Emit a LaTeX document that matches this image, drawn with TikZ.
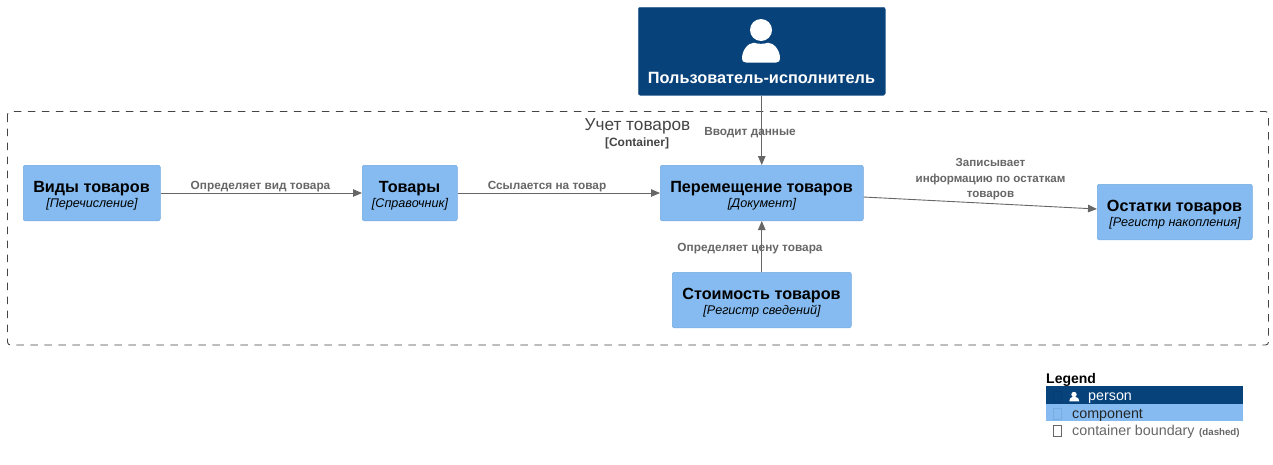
\documentclass[tikz,border=0pt]{standalone}
\usepackage{fontspec}
\setmainfont{Liberation Sans}
\usetikzlibrary{arrows.meta}
\definecolor{persondark}{HTML}{08427B}
\definecolor{compblue}{HTML}{85BBF0}
\definecolor{edgegrey}{HTML}{666666}
\definecolor{bordergrey}{HTML}{444444}
\tikzset{
  x=1pt,y=-1pt,
  comp/.style={draw=compblue!85!persondark,line width=.5pt,fill=compblue,rounded corners=2pt,anchor=north west,inner sep=0pt},
  ctitle/.style={font=\fontsize{16.2}{18}\selectfont\bfseries,text=black,inner sep=0pt},
  csub/.style={font=\fontsize{12.6}{14}\selectfont\itshape,text=black,inner sep=0pt},
  rel/.style={draw=edgegrey,line width=.9pt,-{Stealth[length=9pt,width=7.5pt,inset=0pt]}},
  rellabel/.style={font=\fontsize{11.8}{15.5}\selectfont\bfseries,text=edgegrey,inner sep=0pt,align=center},
  legtext/.style={font=\fontsize{14.3}{16}\selectfont,anchor=west,inner sep=0pt},
  tofu/.style={draw,line width=.6pt,fill=none},
}
\begin{document}
\begin{tikzpicture}
\useasboundingbox (0,0) rectangle (1273,464);
% boundary
\draw[bordergrey,line width=.9pt,dash pattern=on 7.5pt off 6.5pt,rounded corners=3pt] (7.5,111.5) rectangle (1268.5,345);
\node[font=\fontsize{17.2}{18}\selectfont,text=bordergrey,inner sep=0pt] (bt) at (637.5,126.2) {Учет товаров};
\node[font=\fontsize{12}{14}\selectfont\bfseries,text=bordergrey,inner sep=0pt] (bs) at (637,143) {[Container]};
% person
\node[comp,fill=persondark,draw=persondark!80!white,minimum width=247pt,minimum height=88pt] (user) at (638,7) {};
\fill[white] (761,30) circle (11);
\fill[white] (742,58.5) .. controls (742,50) and (748,43) .. (754,42.7) .. controls (758,44.2) and (764,44.2) .. (768,42.7) .. controls (774,43) and (780,50) .. (780,58.5) .. controls (780,61) and (779,62.5) .. (776,62.5) -- (746,62.5) .. controls (743,62.5) and (742,61) .. (742,58.5) -- cycle;
\node[font=\fontsize{16.3}{18}\selectfont\bfseries,text=white,inner sep=0pt] (ut) at (761.5,77.5) {Пользователь-исполнитель};
% components
\node[comp,minimum width=137pt,minimum height=55.5pt] (vid) at (23,165) {};
\node[ctitle] at (91.5,188.5) {Виды товаров};
\node[csub] at (92,204.5) {[Перечисление]};
\node[comp,minimum width=95pt,minimum height=55.5pt] (tov) at (362,165) {};
\node[ctitle] at (409.5,188.5) {Товары};
\node[csub] at (410,204.5) {[Справочник]};
\node[comp,minimum width=203pt,minimum height=55.5pt] (move) at (660,165) {};
\node[ctitle] at (761.5,188.5) {Перемещение товаров};
\node[csub] at (762,204.5) {[Документ]};
\node[comp,minimum width=155pt,minimum height=55.5pt] (ost) at (1097,184) {};
\node[ctitle] at (1174.5,207.5) {Остатки товаров};
\node[csub] at (1175,223.5) {[Регистр накопления]};
\node[comp,minimum width=179pt,minimum height=55.5pt] (cost) at (672,272) {};
\node[ctitle] at (761.5,295.5) {Стоимость товаров};
\node[csub] at (762,311.5) {[Регистр сведений]};
% connectors
\draw[rel] (user.south) -- (move.north);
\draw[rel] (vid.east) -- (tov.west);
\draw[rel] (tov.east) -- (move.west);
\path (move.east) ++(0,4) coordinate (mvout);
\path (ost.west) ++(0,-3) coordinate (ostin);
\draw[rel] (mvout) -- (ostin);
\draw[rel] (cost.north) -- (move.south);
% labels
\node[rellabel] (l1) at (750,133) {Вводит данные};
\node[rellabel] (l2) at (260.5,187) {Определяет вид товара};
\node[rellabel] (l3) at (547,187) {Ссылается на товар};
\node[font=\fontsize{11.6}{15.5}\selectfont\bfseries,text=edgegrey,inner sep=0pt,align=center] (l4) at (990.5,179.5) {Записывает\\информацию по остаткам\\товаров};
\node[rellabel] (l5) at (750,249) {Определяет цену товара};
% legend
\node[font=\fontsize{14}{16}\selectfont\bfseries,anchor=west,inner sep=0pt] (lg) at (1046,380) {Legend};
\fill[persondark] (1046,386) rectangle (1243,404);
\fill[compblue] (1046,404) rectangle (1243,421);
\draw[tofu,draw=persondark!92!black] (1053,391) rectangle (1061,402);
\fill[white] (1074,394.5) circle (2.7);
\fill[white] (1069.3,401.3) .. controls (1069.3,398.5) and (1071,397.2) .. (1072,397.2) -- (1076,397.2) .. controls (1077.5,397.2) and (1079.3,398.5) .. (1079.3,401.3) -- cycle;
\node[legtext,text=white] (lp) at (1088,398) {person};
\draw[tofu,draw=compblue!92!black] (1053,408) rectangle (1061,419);
\node[legtext,text=black!85] (lc) at (1072,415) {component};
\draw[tofu,draw=edgegrey] (1053,425.7) rectangle (1061,436.7);
\node[legtext,text=edgegrey] (lb) at (1072,432) {container boundary};
\node[font=\fontsize{9.7}{10}\selectfont\bfseries,text=edgegrey,anchor=west,inner sep=0pt] (ld) at (1199,433) {(dashed)};
\end{tikzpicture}
\end{document}
